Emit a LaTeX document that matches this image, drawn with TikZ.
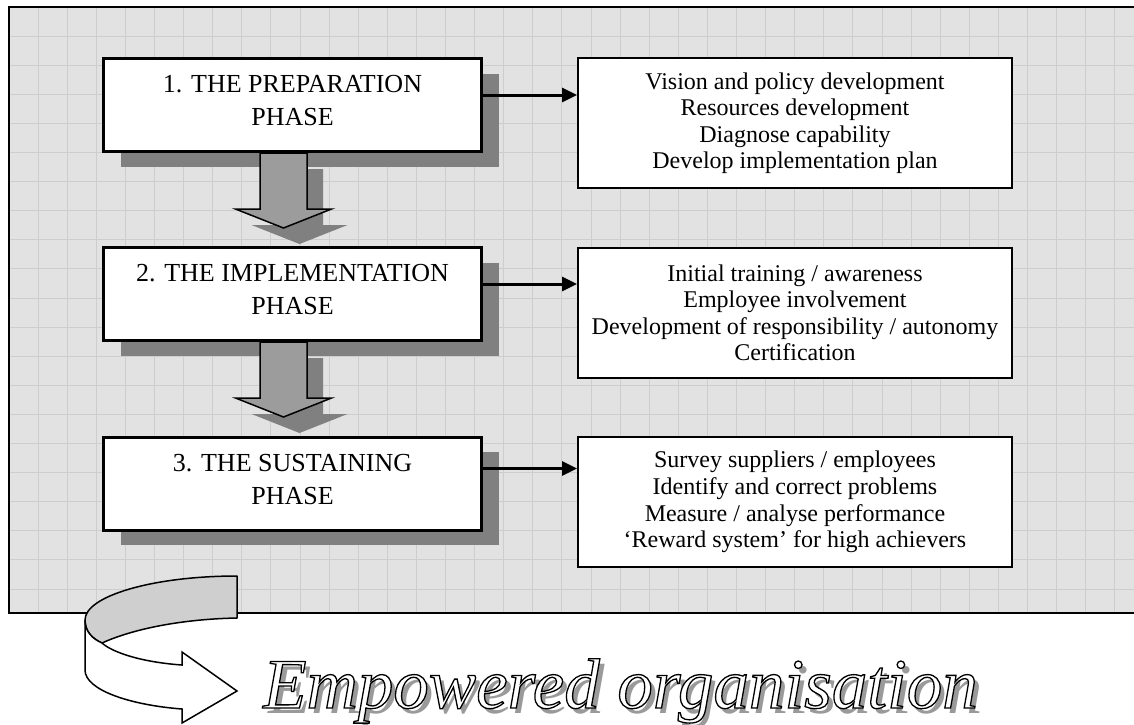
\documentclass[tikz,border=0pt]{standalone}
\usepackage{fontspec}
\setmainfont{Liberation Serif}
\usetikzlibrary{arrows.meta,shadows,calc}

\definecolor{panelbg}{HTML}{E2E2E2}
\definecolor{gridc}{HTML}{CDCDCD}
\definecolor{shadowgray}{HTML}{808080}
\definecolor{arrowgray}{HTML}{9C9C9C}
\definecolor{curlgray}{HTML}{CFCFCF}
\definecolor{textshade}{HTML}{9A9A9A}

% white letters with a black outline (fill + stroke text rendering)
\newcommand\outlinedtext[1]{{\color{white}\special{pdf:literal direct 2 Tr 0 G 1.3 w}#1\special{pdf:literal direct 0 Tr}}}

\tikzset{
  gridline/.style={draw=gridc, line width=1pt},
  phasebox/.style={draw, line width=3pt, fill=white, inner sep=0pt,
    minimum width=378pt, minimum height=93pt, align=center, text depth=9pt,
    font=\fontsize{26}{33}\selectfont,
    drop shadow={shadow xshift=17pt, shadow yshift=-15pt, fill=shadowgray, opacity=1}},
  taskbox/.style={draw, line width=2pt, fill=white, inner sep=0pt,
    minimum width=434pt, minimum height=130pt, align=center,
    font=\fontsize{24}{26.5}\selectfont},
  linkarrow/.style={line width=3pt, -{Triangle[length=15pt,width=14pt]}},
  pics/phasearrow/.style={code={
    \path[pic actions] (-23.5,0) -- ++(0,56) -- ++(-24.5,0) -- ++(48,19)
      -- ++(48,-19) -- ++(-24.5,0) -- ++(0,-56) -- cycle;}},
  bigtext/.style={anchor=base west, inner sep=0pt,
    font=\fontsize{71}{80}\selectfont\itshape}
}

\begin{document}
\begin{tikzpicture}[x=1pt,y=-1pt]
\useasboundingbox (0,0) rectangle (1134,724);
\clip (0,0) rectangle (1134,724);

% gridded panel
\fill[panelbg] (9,7) rectangle (1140,613);
\foreach \k in {1,...,38}
  \draw[gridline] ({9+29.1*\k},7) -- ({9+29.1*\k},613);
\foreach \k in {1,...,20}
  \draw[gridline] (9,{7+29.1*\k}) -- (1140,{7+29.1*\k});
\draw[line width=2pt] (1140,7) -- (9,7) -- (9,613) -- (1140,613);

% phase boxes
\node[phasebox] (b1) at (292.5,105) {1. THE PREPARATION\\PHASE};
\node[phasebox] (b2) at (292.5,294) {2. THE IMPLEMENTATION\\PHASE};
\node[phasebox] (b3) at (292.5,483.5) {3. THE SUSTAINING\\PHASE};

% activity boxes
\node[taskbox] (r1) at (795,123) {Vision and policy development\\Resources development\\Diagnose capability\\Develop implementation plan};
\node[taskbox] (r2) at (795,313) {Initial training / awareness\\Employee involvement\\Development of responsibility / autonomy\\Certification};
\node[taskbox] (r3) at (795,502) {Survey suppliers / employees\\Identify and correct problems\\Measure / analyse performance\\`Reward system' for high achievers};

% block arrows between phases
\coordinate (d1) at ([xshift=-9pt]b1.south);
\coordinate (d2) at ([xshift=-9pt]b2.south);
\foreach \d in {d1,d2}{
  \pic[fill=shadowgray] at ([shift={(16,16)}]\d) {phasearrow};
  \pic[fill=arrowgray, draw, line width=1.5pt, line join=miter] at (\d) {phasearrow};
}

% arrows to the activity boxes
\coordinate (s1) at ([yshift=-38pt]b1.north east);
\coordinate (s2) at ([yshift=-38pt]b2.north east);
\coordinate (s3) at ([yshift=-33pt]b3.north east);
\draw[linkarrow] (s1) -- (s1 -| r1.west);
\draw[linkarrow] (s2) -- (s2 -| r2.west);
\draw[linkarrow] (s3) -- (s3 -| r3.west);

% curled ribbon arrow
\filldraw[fill=curlgray, line width=1.5pt, line join=round]
  (237,576) .. controls (153,576) and (85,596) .. (85,620)
  .. controls (85,632) and (93,639) .. (102,643)
  .. controls (135,628) and (185,619) .. (237,618) -- cycle;
\filldraw[fill=white, line width=1.5pt, line join=miter]
  (85,620) -- (85,670) .. controls (85,690) and (130,705) .. (182,709)
  -- (182,723) -- (237,691) -- (182,652) -- (182,665)
  .. controls (140,662) and (112,652) .. (102,643)
  .. controls (93,639) and (85,632) .. (85,620) -- cycle;

% outlined title with drop shadow
\node[bigtext, text=textshade] (shade) at (268,713) {Empowered organisation};
\node[bigtext] (title) at (263,708) {\outlinedtext{Empowered organisation}};
\end{tikzpicture}
\end{document}
